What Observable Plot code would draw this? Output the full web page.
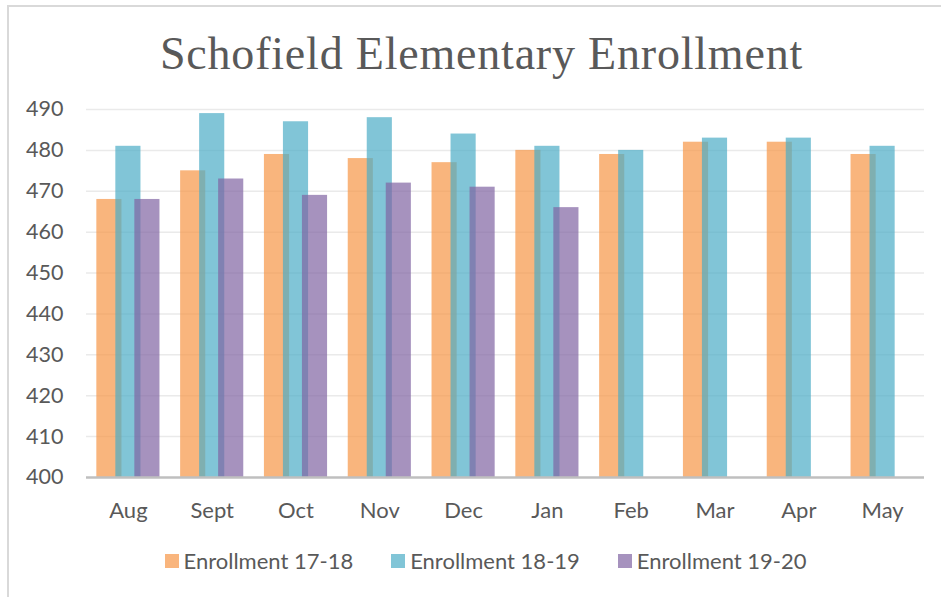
<!DOCTYPE html>
<html>
<head>
<meta charset="utf-8">
<script src="https://cdn.jsdelivr.net/npm/d3@7"></script>
<script src="https://cdn.jsdelivr.net/npm/@observablehq/plot@0.6"></script>
<style>
  html, body { margin: 0; padding: 0; background: #fff; }
  #wrap { position: relative; width: 941px; height: 597px; overflow: hidden; background: #fff; }
  #frame { position: absolute; left: 7px; top: 5px; width: 1000px; height: 700px; border-left: 2px solid #D9D9D9; border-top: 2px solid #D9D9D9; box-sizing: border-box; }
  #title { position: absolute; left: 0; top: 24px; width: 963px; text-align: center; font-family: "Liberation Serif", serif; font-size: 46px; color: #595959; letter-spacing: 0.8px; line-height: 60px; }
  #chart { position: absolute; left: 0; top: 90px; }
  #legend { position: absolute; left: 0; top: 546px; width: 971px; display: flex; justify-content: center; gap: 38px; font-family: Lato, sans-serif; font-size: 22px; color: #595959; line-height: 30px; }
  .item { display: flex; align-items: center; }
  .sw { width: 14px; height: 14px; margin-right: 5px; }
</style>
</head>
<body>
<div id="wrap">
  <div id="frame"></div>
  <div id="title">Schofield Elementary Enrollment</div>
  <div id="chart"></div>
  <div id="legend"></div>
</div>
<script>
const months = ["Aug", "Sept", "Oct", "Nov", "Dec", "Jan", "Feb", "Mar", "Apr", "May"];
const enroll1718 = [468, 475, 479, 478, 477, 480, 479, 482, 482, 479];
const enroll1819 = [481, 489, 487, 488, 484, 481, 480, 483, 483, 481];
const enroll1920 = [468, 473, 469, 472, 471, 466];
const seriesNames = ["Enrollment 17-18", "Enrollment 18-19", "Enrollment 19-20"];
const seriesColors = ["#F79646", "#4BACC6", "#8064A2"];
const yTicks = [400, 410, 420, 430, 440, 450, 460, 470, 480, 490];

const seriesValues = [enroll1718, enroll1819, enroll1920];
const offsets = [-19, 0, 19];

const barMarks = seriesValues.map((vals, i) =>
  Plot.barY(vals.map((v, j) => ({month: months[j], value: v})), {
    x: "month",
    y1: () => 400,
    y2: "value",
    fill: seriesColors[i],
    fillOpacity: 0.7,
    dx: offsets[i]
  })
);

const chart = Plot.plot({
  width: 941,
  height: 440,
  marginTop: 19,
  marginBottom: 53,
  marginLeft: 86,
  marginRight: 17,
  style: {fontFamily: "Lato, sans-serif", fontSize: "22px", color: "#595959", background: "transparent"},
  x: {domain: months, paddingInner: 0.7, paddingOuter: 0.35, round: false, label: null},
  y: {domain: [400, 490], label: null},
  marks: [
    Plot.ruleY(yTicks.filter(t => t > 400), {stroke: "#EAEAEA", strokeWidth: 1.5}),
    ...barMarks,
    Plot.ruleY([400], {stroke: "#BFBFBF", strokeWidth: 2.5}),
    Plot.axisY({ticks: yTicks, tickSize: 0, tickPadding: 23, label: null, fontSize: 21.5}),
    Plot.axisX({tickSize: 0, tickPadding: 25, label: null, fontSize: 22})
  ]
});
document.getElementById("chart").appendChild(chart);

const legend = document.getElementById("legend");
seriesNames.forEach((name, i) => {
  const item = document.createElement("div");
  item.className = "item";
  const sw = document.createElement("span");
  sw.className = "sw";
  sw.style.background = seriesColors[i];
  sw.style.opacity = 0.7;
  const t = document.createElement("span");
  t.textContent = name;
  item.appendChild(sw);
  item.appendChild(t);
  legend.appendChild(item);
});
</script>
</body>
</html>
